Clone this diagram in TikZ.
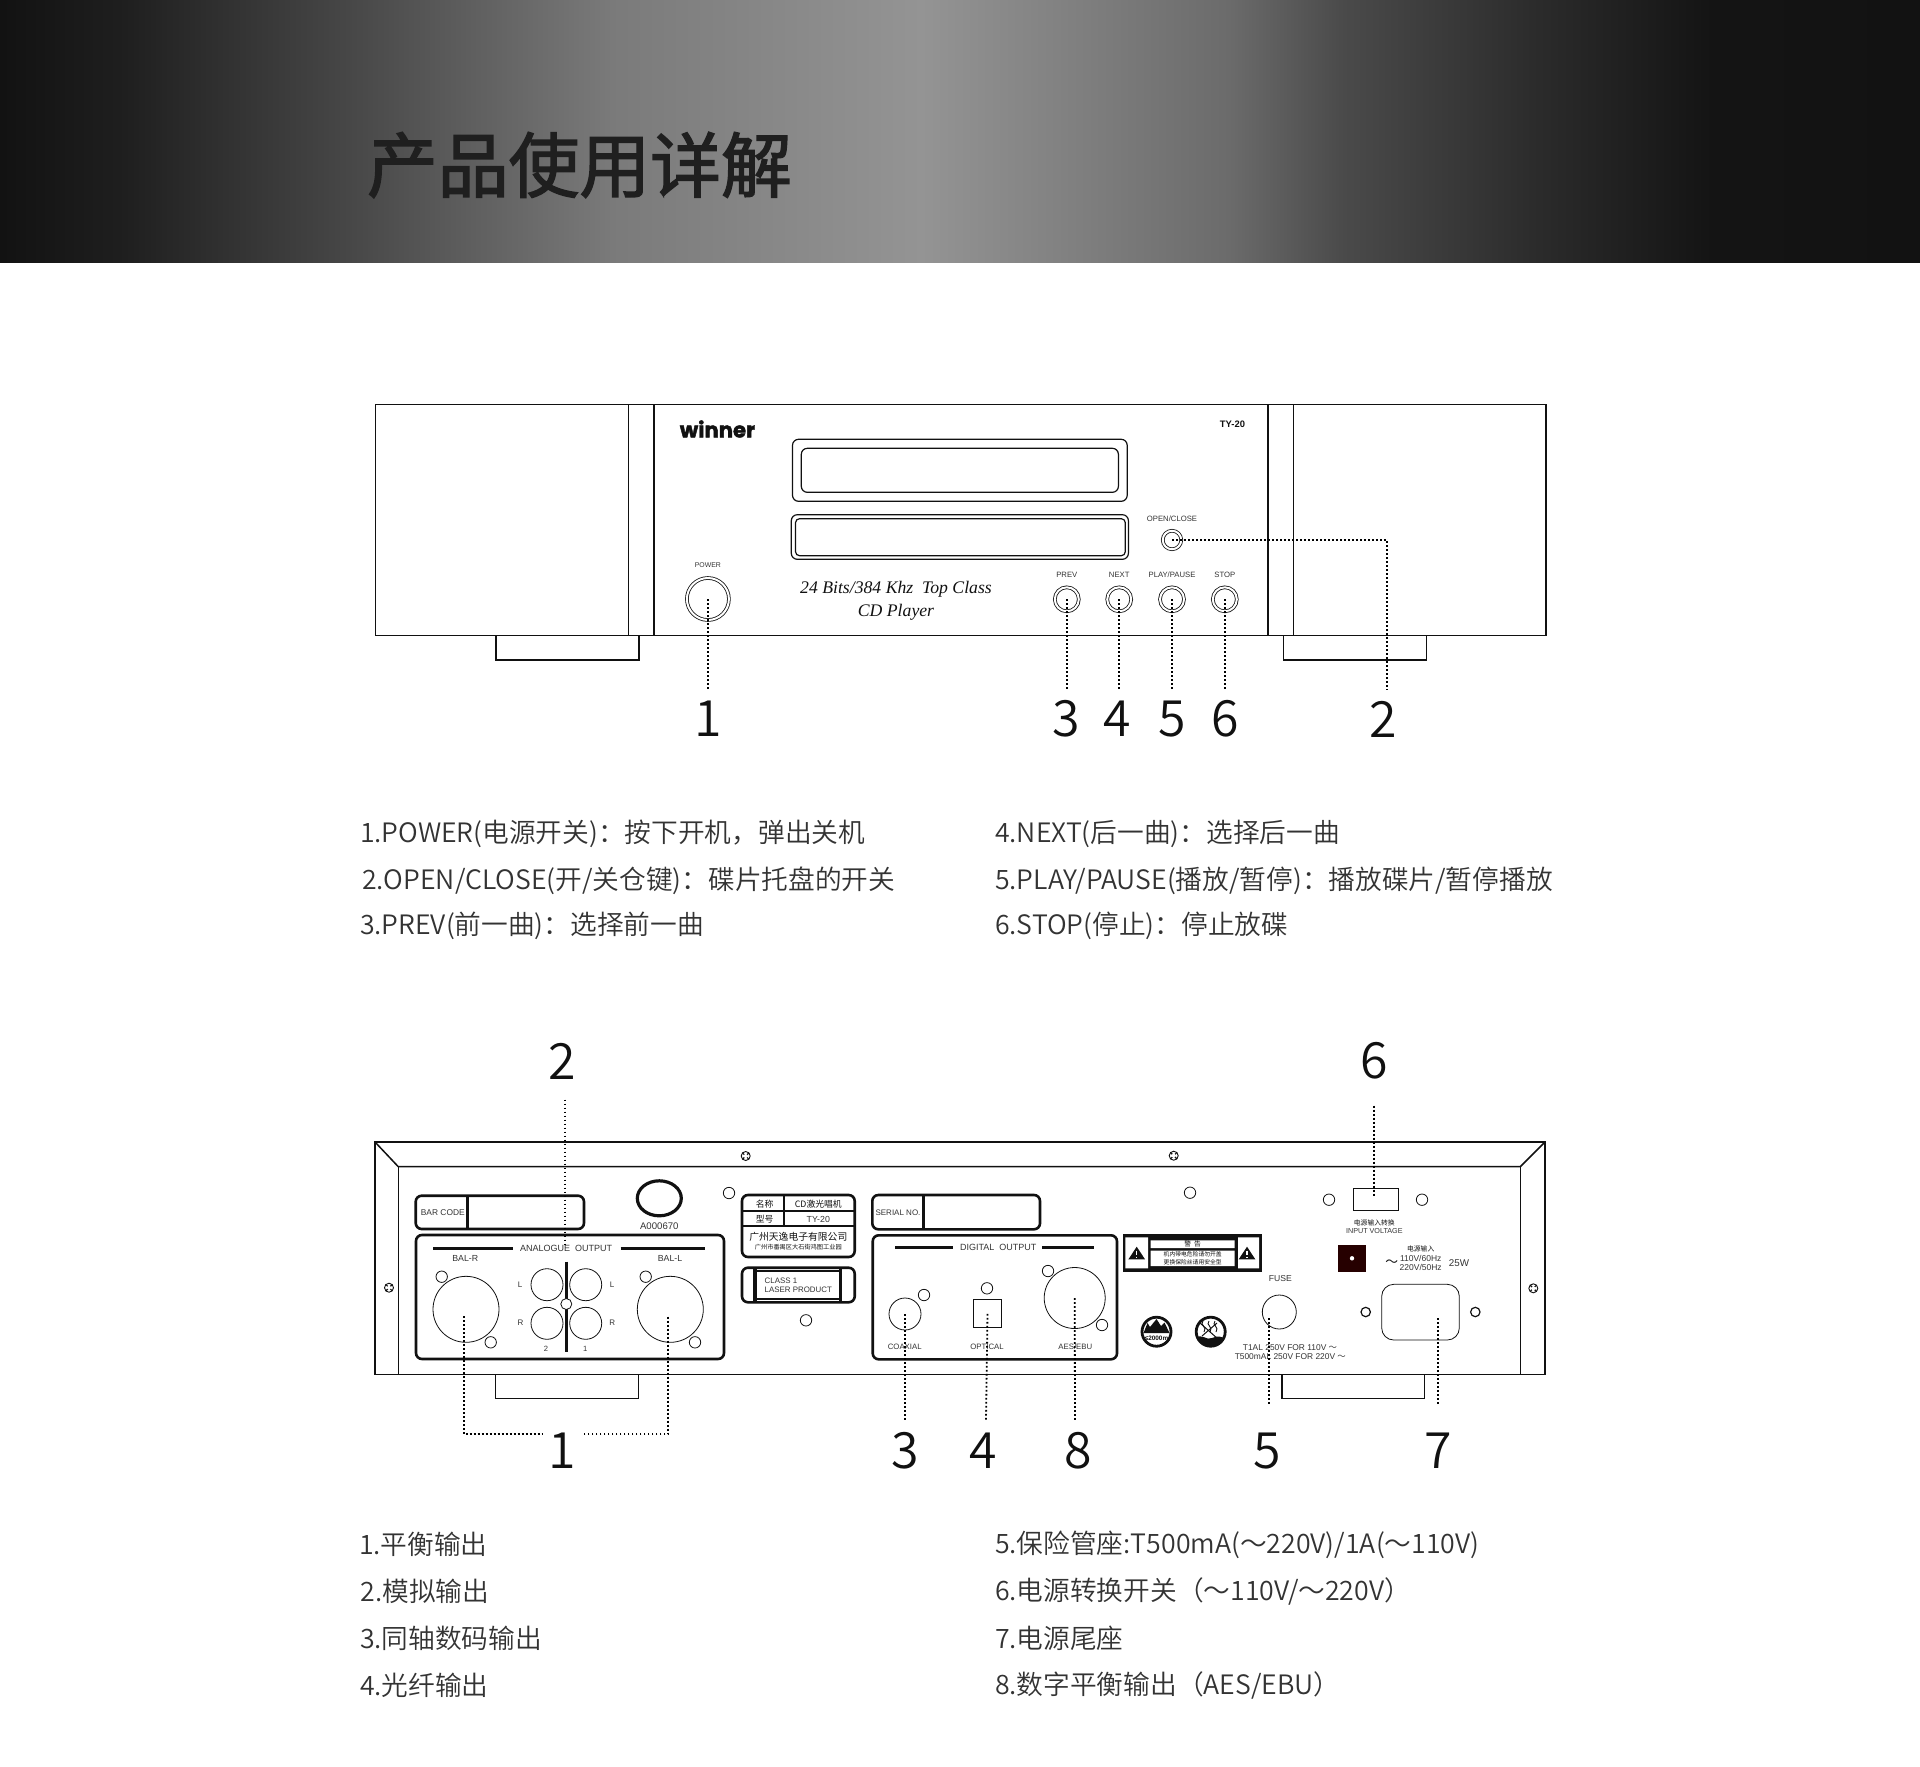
\documentclass[tikz,border=0pt]{standalone}
\usepackage{fontspec}
\usetikzlibrary{positioning,shapes.geometric}
\newfontfamily\cjk{Noto Sans CJK SC}
\newfontfamily\cjklight{Noto Sans CJK SC DemiLight}
\newfontfamily\cjkbold[FakeBold=2]{Noto Sans CJK SC}
\newfontfamily\labfont{Liberation Sans}
\newfontfamily\serifit{Liberation Serif}
\newfontfamily\logofont[BoldFeatures={FakeBold=2}]{Poppins}
\def\px{0.5pt}
\definecolor{ink}{HTML}{111111}
\definecolor{textgrey}{HTML}{333333}
\pgfdeclarehorizontalshading{headshade}{100bp}{color(0bp)=(black!93); color(25bp)=(black!93); color(28.2bp)=(black!88); color(34.5bp)=(black!71); color(41bp)=(black!52); color(49bp)=(black!42); color(57bp)=(black!58); color(60bp)=(black!71); color(65bp)=(black!83); color(69.5bp)=(black!92); color(75bp)=(black!93); color(100bp)=(black!93)}
\tikzset{
    every node/.style={inner sep=0pt, outer sep=0pt},
    body/.style={anchor=west, text=textgrey, font=\cjklight\fontsize{13.35}{16}\selectfont},
    num/.style={text=ink, font=\cjklight\fontsize{25}{30}\selectfont},
    lab/.style={text=textgrey, text depth=0pt, font=\labfont\fontsize{#1}{#1}\selectfont},
    lab/.default=4.2,
    zh/.style={text=ink, font=\cjk\fontsize{#1}{#1}\selectfont},
    panel/.style={draw=ink, line width=1.5*\px},
    plate/.style={draw=ink, line width=2.6*\px, rounded corners=3pt},
    thinline/.style={draw=ink, line width=1.2*\px},
    knob/.style={circle, draw=ink, line width=.8*\px, double, double distance=2*\px, minimum size=#1*\px},
    hole/.style={circle, draw=ink, line width=.8*\px, minimum size=#1*\px},
    hole/.default=11.4,
    screw/.style={circle, draw=ink, fill=white, line width=.9*\px, minimum size=9*\px},
    leader/.style={draw=black, line width=1.8*\px, dash pattern=on 1.8*\px off 2.2*\px},
}
\begin{document}
\begin{tikzpicture}[x=0.5pt, y=-0.5pt]
    \useasboundingbox (0,0) rectangle (1920,1766);
    \shade[shading=headshade] (0,0) rectangle (1920,262.5);
    \node[anchor=west, text=black!88, font=\cjkbold\fontsize{35.4}{40}\selectfont] (title) at (367,165) {产品使用详解};

    \draw[panel] (375.3,404.3) rectangle (1546,635.7);
    \draw[panel] (628.7,404.3) -- (628.7,635.7) (653.9,404.3) -- (653.9,635.7);
    \draw[panel] (1268,404.3) -- (1268,635.7) (1293.3,404.3) -- (1293.3,635.7);
    \draw[thinline] (495.9,635.7) -- (495.9,660) -- (639,660) -- (639,635.7);
    \draw[thinline] (1283.4,635.7) -- (1283.4,660) -- (1426.1,660) -- (1426.1,635.7);
    \draw[thinline, rounded corners=3pt] (792.5,439.3) rectangle (1127.2,501.3);
    \draw[thinline, rounded corners=3pt] (801.3,448.3) rectangle (1118.4,492.3);
    \draw[thinline, rounded corners=3pt] (791.3,514.7) rectangle (1128.4,559.3);
    \draw[thinline, rounded corners=2pt] (795.5,518.7) rectangle (1125.3,555.7);
    \node[font=\logofont\bfseries\fontsize{10.6}{11}\selectfont, text=ink] (logo) at (717.5,429) {winner};
    \node[text=ink, font=\labfont\bfseries\fontsize{4.7}{5}\selectfont] (model) at (1232.5,424) {TY-20};
    \node[font=\serifit\itshape\fontsize{8.85}{10}\selectfont, text=ink] (slogana) at (896,589) {24 Bits/384 Khz~~Top Class};
    \node[font=\serifit\itshape\fontsize{8.85}{10}\selectfont, text=ink] (sloganb) at (896,612) {CD Player};

    \node[knob=42] (power) at (707.9,599) {};
    \node[lab=3.45] (powerl) at (707.9,564.7) {POWER};
    \coordinate (powere) at (707.9,690);
    \node[num] (powern) at (708,719) {1};
    \draw[leader] (power.center) -- (powere);

    \foreach \k/\x/\t/\d/\dx in {prev/1066.8/PREV/3/1066.7, next/1119.2/NEXT/4/1117.3, play/1172/{PLAY/PAUSE}/5/1172.4, stop/1224.8/STOP/6/1225.2} {
        \node[knob=24] (\k) at (\x,599.3) {};
        \node[lab=3.85] (\k l) at (\x,574.8) {\t};
        \coordinate (\k e) at (\x,690);
        \node[num] (\k n) at (\dx,719) {\d};
        \draw[leader] (\k.center) -- (\k e);
    }

    \node[knob=18.5] (open) at (1172,540) {};
    \node[lab=3.85] (openl) at (1172,518.7) {OPEN/CLOSE};
    \coordinate (openb) at (1386.7,540);
    \coordinate (opene) at (1386.7,690);
    \node[num] (openn) at (1383.5,719) {2};
    \draw[leader] (open.center) -- (openb) -- (opene);

    \node[body] (fa) at (360,834) {1.POWER(电源开关)：按下开机，弹出关机};
    \node[body] (fb) at (362,881) {2.OPEN/CLOSE(开/关仓键)：碟片托盘的开关};
    \node[body] (fc) at (360,926) {3.PREV(前一曲)：选择前一曲};
    \node[body] (fd) at (995,834) {4.NEXT(后一曲)：选择后一曲};
    \node[body] (fe) at (995,881) {5.PLAY/PAUSE(播放/暂停)：播放碟片/暂停播放};
    \node[body] (ff) at (995,926) {6.STOP(停止)：停止放碟};

    \draw[panel] (375,1142) rectangle (1545,1374.5);
    \draw[panel] (375,1142) -- (398.3,1166.7) -- (1520.3,1166.7) -- (1545,1142);
    \draw[panel] (398.3,1166.7) -- (398.3,1374.5) (1520.3,1166.7) -- (1520.3,1374.5);
    \draw[thinline] (495.3,1374.5) -- (495.3,1398.5) -- (638.3,1398.5) -- (638.3,1374.5);
    \draw[thinline] (1282,1374.5) -- (1282,1398.5) -- (1424.7,1398.5) -- (1424.7,1374.5);
    \foreach \s/\x/\y in {sa/745.7/1156, sb/1173.7/1155.7, sc/389/1287.7, sd/1533.3/1288.3} {
        \node[screw] (\s) at (\x,\y) {};
        \draw[ink, line width=1.1*\px] (\s.north west) -- (\s.south east) (\s.north east) -- (\s.south west);
        \fill[white] (\s.center) circle (1pt);
    }

    \draw[plate] (415.7,1195.7) rectangle (584,1229);
    \draw[ink, line width=2.6*\px] (467.3,1195.7) -- (467.3,1229);
    \node[lab=4.2] (barcode) at (442.8,1212.3) {BAR CODE};
    \node[ellipse, draw=ink, line width=3.2*\px, minimum width=44*\px, minimum height=35*\px] (ring) at (659.3,1198.3) {};
    \node[lab=4.8] (ringl) at (659.3,1226) {A000670};
    \foreach \h/\x/\y in {ha/729/1193, hb/806/1320.3, hc/1190/1192.7, hd/1329/1199.7, he/1422/1199.7} {
        \node[hole] (\h) at (\x,\y) {};
    }

    \draw[plate] (416,1235) rectangle (724,1359);
    \draw[ink, line width=2.6*\px] (433.3,1248.3) -- (512.7,1248.3) (620.7,1248.3) -- (704.7,1248.3);
    \node[lab=4.5] (analog) at (566,1248.3) {ANALOGUE~~OUTPUT};
    \node[lab=4.4] (balr) at (465.3,1258.3) {BAL-R};
    \node[lab=4.4] (ball) at (670,1258.3) {BAL-L};
    \node[hole=66] (xr) at (466,1309.3) {};
    \node[hole] (xra) at (441.7,1276.7) {};
    \node[hole] (xrb) at (490.7,1342.3) {};
    \node[hole=66] (xl) at (670.3,1309.3) {};
    \node[hole] (xla) at (645.7,1276.7) {};
    \node[hole] (xlb) at (695,1342.3) {};
    \draw[ink, line width=2.6*\px] (566.3,1261.7) -- (566.3,1351.7);
    \foreach \r/\x/\y in {ra/547/1284.7, rb/585.7/1284.7, rc/547/1323.3, rd/585.7/1323.3} {
        \node[hole=32] (\r) at (\x,\y) {};
    }
    \node[hole=11, fill=white] (rm) at (566.3,1304) {};
    \node[lab=4] (ll) at (520,1285) {L};
    \node[lab=4] (lr) at (612,1285) {L};
    \node[lab=4] (rl) at (520.5,1323) {R};
    \node[lab=4] (rr) at (612.3,1323) {R};
    \node[lab=3.8] (two) at (546,1348.7) {2};
    \node[lab=3.8] (one) at (585.3,1348.7) {1};

    \draw[plate] (742,1195) rectangle (854.7,1257);
    \draw[ink, line width=2*\px] (742,1210.7) -- (854.7,1210.7) (742,1225.7) -- (854.7,1225.7) (784,1195) -- (784,1225.7);
    \node[zh=4.4] (pa) at (764.7,1204) {名称};
    \node[zh=4.4] (pb) at (818.3,1204) {CD激光唱机};
    \node[zh=4.4] (pc) at (764.7,1219) {型号};
    \node[lab=4.4] (pd) at (818.3,1219) {TY-20};
    \node[zh=4.9] (pe) at (798.3,1237) {广州天逸电子有限公司};
    \node[zh=3.1] (pf) at (798.3,1247) {广州市番禺区大石街鸿图工业园};

    \draw[plate] (742,1267.7) rectangle (854.7,1302.3);
    \draw[ink, line width=3.4*\px] (755,1268) -- (755,1302) (840.7,1268) -- (840.7,1302);
    \draw[ink, line width=2*\px] (755,1271) -- (840.7,1271) (755,1299) -- (840.7,1299);
    \node[lab=3.95, anchor=west] (laser) at (764.7,1280.7) {CLASS 1};
    \node[lab=3.95, anchor=west] (laserb) at (764.7,1289.3) {LASER PRODUCT};

    \draw[plate] (872.3,1195) rectangle (1040,1229.3);
    \draw[ink, line width=2.6*\px] (923.3,1195) -- (923.3,1229.3);
    \node[lab=4] (serial) at (898,1212.3) {SERIAL NO.};

    \draw[plate] (872.7,1235.3) rectangle (1117,1359.3);
    \draw[ink, line width=2.6*\px] (895,1247.7) -- (953.3,1247.7) (1042.3,1247.7) -- (1094,1247.7);
    \node[lab=4.5] (digital) at (998.3,1247.7) {DIGITAL~~OUTPUT};
    \node[hole=32] (coax) at (905,1314) {};
    \node[hole] (coaxh) at (924,1295) {};
    \node[lab=3.9] (coaxl) at (904.7,1346.7) {COAXIAL};
    \node[draw=ink, line width=.8*\px, minimum size=28*\px] (opt) at (987.5,1313.8) {};
    \node[hole] (opth) at (987,1288.3) {};
    \node[lab=3.9] (optl) at (987,1346.7) {OPTICAL};
    \node[hole=61] (aes) at (1074.7,1298) {};
    \node[hole] (aesa) at (1048,1271) {};
    \node[hole] (aesb) at (1102,1325) {};
    \node[lab=3.9] (aesl) at (1075.3,1346.7) {AES/EBU};

    \fill[ink] (1122.7,1234) rectangle (1262,1271.7);
    \fill[white] (1125.3,1237.3) rectangle (1148,1268.3) (1238,1237.3) rectangle (1259,1268.3) (1150.7,1240.3) rectangle (1234.7,1248) (1150.7,1250.7) rectangle (1234.7,1266);
    \foreach \x in {1136.7,1247} {
        \fill[ink] (\x-8.3,1259.3) -- (\x,1246.7) -- (\x+8.3,1259.3) -- cycle;
        \draw[white, line width=1.5*\px] (\x,1250.5) -- (\x,1255) (\x,1256.5) -- (\x,1258);
    }
    \node[zh=3.4] (wa) at (1192.7,1244) {警\ \ 告};
    \node[zh=2.9] (wb) at (1192.7,1254.3) {机内带电危险请勿开盖};
    \node[zh=2.9] (wc) at (1192.7,1262) {更换保险丝请用安全型};

    \node[circle, draw=ink, line width=2.8*\px, minimum size=29*\px] (alt) at (1156.5,1331.7) {};
    \fill[ink] (1143.5,1333) -- (1147.5,1323) -- (1150,1327) -- (1156.5,1319) -- (1161,1326) -- (1164.5,1322.5) -- (1169.5,1333) -- cycle;
    \node[text=ink, font=\labfont\bfseries\fontsize{3.2}{3.2}\selectfont] (altl) at (1156.5,1338.5) {≤2000m};
    \node[circle, draw=ink, line width=2.8*\px, minimum size=29*\px] (trop) at (1210.7,1331.7) {};
    \begin{scope}
        \clip (trop.center) circle (7.5pt);
        \fill[ink] (1195,1338) .. controls (1203,1333) and (1206,1341) .. (1212,1338) .. controls (1218,1335) and (1222,1337) .. (1226,1339) -- (1226,1350) -- (1195,1350) -- cycle;
    \end{scope}
    \draw[ink, line width=1*\px] (1200,1323) -- (1218,1339) (1202,1336) -- (1217,1323);
    \foreach \d in {0,6,12} {
        \draw[ink, line width=.9*\px] (1203+\d,1321) .. controls (1199+\d,1325) and (1208+\d,1327) .. (1204+\d,1332);
    }

    \node[lab=4.3] (fuse) at (1280.3,1278) {FUSE};
    \node[hole=34] (fh) at (1279.3,1312) {};
    \node[lab=4.2] (fa1) at (1290,1347.7) {T1AL 250V FOR 110V {\cjk ～}};
    \node[lab=4.2] (fa2) at (1290.3,1356.3) {T500mAL 250V FOR 220V {\cjk ～}};

    \node[draw=ink, line width=.8*\px, minimum width=44.7*\px, minimum height=22.4*\px] (sw) at (1375.6,1199.5) {};
    \node[zh=3.4] (swa) at (1374.3,1223) {电源输入转换};
    \node[lab=3.6] (swb) at (1374.3,1231) {INPUT VOLTAGE};
    \fill[black!85!red] (1338.3,1244.7) rectangle (1365.7,1272);
    \fill[white] (1352,1258.3) circle (1.1pt);
    \node[zh=3.4] (ina) at (1420.7,1248.7) {电源输入};
    \node[zh=6.4] (inb) at (1391.7,1263.3) {～};
    \node[lab=4.25] (inc) at (1420.7,1258.7) {110V/60Hz};
    \node[lab=4.25] (ind) at (1420.7,1267.3) {220V/50Hz};
    \node[lab=4.9] (ine) at (1459,1262.7) {25W};
    \draw[ink, line width=.8*\px, rounded corners=6pt] (1381.7,1284.3) rectangle (1459.3,1340);
    \coordinate (iec) at (1438.3,1318.3);
    \node[hole=9.4, line width=1.2*\px] (iea) at (1365.7,1312) {};
    \node[hole=9.4, line width=1.2*\px] (ieb) at (1475.3,1312) {};

    \node[num] (na) at (562,1451) {1};
    \node[num] (nb) at (562.5,1061) {2};
    \node[num] (nc) at (905.2,1451) {3};
    \node[num] (nd) at (983.5,1451) {4};
    \node[num] (ne) at (1267.5,1451) {5};
    \node[num] (nf) at (1374.2,1061) {6};
    \node[num] (ng) at (1437.9,1451) {7};
    \node[num] (nh) at (1077.9,1451) {8};
    \coordinate (lb) at (464,1316);
    \coordinate (lbc) at (464,1434.3);
    \coordinate (lbe) at (543.3,1434.3);
    \coordinate (rb) at (667.7,1316.7);
    \coordinate (rbc) at (667.7,1434.3);
    \coordinate (rbe) at (582.3,1434.3);
    \draw[leader] (lb) -- (lbc) -- (lbe);
    \draw[leader] (rb) -- (rbc) -- (rbe);
    \coordinate (ana) at (565,1099.6);
    \coordinate (anb) at (565,1246.7);
    \draw[leader] (ana) -- (anb);
    \coordinate (coe) at (905,1420);
    \draw[leader] (coax.center) -- (coe);
    \coordinate (ope) at (986,1420);
    \draw[leader] (opt.center) -- (ope);
    \coordinate (aee) at (1075,1420);
    \draw[leader] (aes.center) -- (aee);
    \coordinate (fub) at (1269.3,1318.3);
    \coordinate (fue) at (1269.3,1404.3);
    \draw[leader] (fub) -- (fue);
    \coordinate (ice) at (1438.3,1404.3);
    \draw[leader] (iec) -- (ice);
    \coordinate (swt) at (1374,1105.7);
    \coordinate (swe) at (1374,1196.7);
    \draw[leader] (swt) -- (swe);

    \node[body] (ba) at (359,1544.5) {1.平衡输出};
    \node[body] (bb) at (360.5,1591) {2.模拟输出};
    \node[body] (bc) at (360,1638) {3.同轴数码输出};
    \node[body] (bd) at (360,1685) {4.光纤输出};
    \node[body] (be) at (995,1544.5) {5.保险管座:T500mA(～220V)/1A(～110V)};
    \node[body] (bf) at (995,1591) {6.电源转换开关（～110V/～220V）};
    \node[body] (bg) at (995,1638) {7.电源尾座};
    \node[body] (bh) at (995,1685) {8.数字平衡输出（AES/EBU）};
\end{tikzpicture}
\end{document}
